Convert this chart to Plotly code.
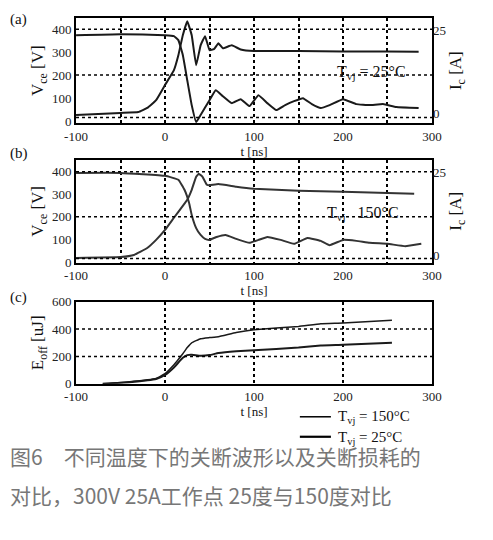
import plotly.graph_objects as go

# (a) Tvj = 25 C
ta_v = [-100, -50, -30, -20, -10, 0, 10, 15, 20, 25, 30, 35, 40, 45, 50, 55, 60, 65, 75, 85, 100, 150, 200, 250, 285]
va_v = [26, 35, 39, 57, 91, 157, 222, 287, 374, 435, 374, 243, 330, 370, 309, 313, 339, 317, 330, 312, 305, 305, 303, 303, 302]
ta_i = [-100, -50, 0, 10, 15, 20, 25, 30, 35, 40, 50, 57, 65, 75, 85, 95, 105, 115, 125, 135, 145, 155, 165, 175, 185, 200, 215, 230, 245, 260, 285]
ia_i = [23.5, 23.8, 23.5, 23.2, 22.0, 17.5, 9.9, 2.4, -2.7, -0.6, 3.9, 6.9, 5.1, 3.0, 4.2, 2.1, 5.4, 3.0, 0.9, 2.4, 3.6, 4.5, 2.7, 1.5, 2.4, 4.2, 2.7, 2.4, 2.7, 1.8, 1.5]

# (b) Tvj = 150 C
tb_v = [-100, -50, -35, -20, -10, 0, 10, 20, 25, 30, 35, 38, 42, 47, 50, 60, 80, 100, 150, 200, 280]
vb_v = [18, 22, 31, 62, 98, 142, 196, 249, 276, 320, 378, 391, 378, 342, 340, 345, 333, 324, 316, 311, 302]
tb_i = [-100, -50, 0, 15, 22, 27, 30, 35, 40, 45, 50, 58, 68, 80, 95, 105, 115, 130, 145, 160, 175, 185, 200, 215, 230, 250, 270, 288]
ib_i = [25, 25, 24.1, 22.9, 19.8, 15.9, 12.2, 8.2, 6.1, 4.9, 4.6, 5.5, 6.1, 4.9, 3.7, 4.6, 5.5, 4.6, 3.4, 5.2, 4.3, 3.0, 4.6, 4.3, 3.7, 3.4, 2.7, 3.4]

# (c) turn-off energy
tc = [-70, -40, -10, 0, 10, 20, 25, 30, 40, 50, 60, 80, 100, 150, 175, 200, 255]
e150 = [0, 15, 40, 75, 140, 220, 265, 300, 330, 338, 345, 375, 395, 420, 440, 445, 465]
e25 = [0, 12, 35, 65, 120, 190, 210, 212, 205, 210, 225, 238, 245, 265, 280, 285, 300]

serif = "Liberation Serif"
fig = go.Figure()
ln = dict(color="#1a1a1a", width=2, shape="spline", smoothing=0.3)

fig.add_trace(go.Scatter(x=ta_v, y=va_v, mode="lines", line=ln, xaxis="x", yaxis="y"))
fig.add_trace(go.Scatter(x=ta_i, y=ia_i, mode="lines", line=ln, xaxis="x", yaxis="y2"))
fig.add_trace(go.Scatter(x=tb_v, y=vb_v, mode="lines", line=dict(ln, color="#333"), xaxis="x2", yaxis="y3"))
fig.add_trace(go.Scatter(x=tb_i, y=ib_i, mode="lines", line=dict(ln, color="#333"), xaxis="x2", yaxis="y4"))
fig.add_trace(go.Scatter(x=tc, y=e150, mode="lines", line=dict(ln, width=1.5), xaxis="x3", yaxis="y5"))
fig.add_trace(go.Scatter(x=tc, y=e25, mode="lines", line=dict(ln, width=2), xaxis="x3", yaxis="y5"))

xd = [0.138, 0.860]
tv = [-100, -50, 0, 50, 100, 150, 200, 250, 300]
tt = ["-100", "", "0", "", "100", "", "200", "", "300"]
tick = dict(family=serif, size=13, color="#222")
frame = dict(showline=True, linewidth=2, linecolor="black", mirror=True, ticks="", zeroline=False,
             tickfont=tick, automargin=False)
xgrid = dict(showgrid=True, griddash="dot", gridcolor="black", gridwidth=1.5)
tfont = dict(family=serif, size=17, color="#111")


def xax(anchor, vals, text):
    return dict(frame, **xgrid, domain=xd, range=[-100, 300], anchor=anchor, tickvals=vals, ticktext=text,
                title=dict(text="t [ns]", font=dict(family=serif, size=13, color="#111"), standoff=2))


def yax(dom, rng, anchor, title):
    return dict(frame, domain=dom, range=rng, anchor=anchor, tickvals=[0, 100, 200, 300, 400], showgrid=False,
                title=dict(text=title, font=tfont, standoff=4))


def y2ax(over, rng):
    return dict(overlaying=over, side="right", anchor="free", position=xd[1], range=rng, tickvals=[0, 25],
                showgrid=False, zeroline=False, ticks="", tickfont=tick, automargin=False,
                title=dict(text="I<sub>c</sub> [A]", font=tfont, standoff=4))


fig.update_layout(
    width=493, height=540, showlegend=False, plot_bgcolor="white", paper_bgcolor="white",
    margin=dict(l=0, r=0, t=0, b=0),
    xaxis=xax("y", tv, tt),
    yaxis=yax([0.787, 0.981], [-9, 448], "x", "V<sub>ce</sub> [V]"),
    yaxis2=y2ax("y", [-3, 28.6]),
    xaxis2=xax("y3", tv, tt),
    yaxis3=yax([0.528, 0.719], [-4, 453], "x2", "V<sub>ce</sub> [V]"),
    yaxis4=y2ax("y3", [-2.4, 29]),
    xaxis3=dict(xax("y5", [-100, 0, 100, 200, 300], ["-100", "0", "100", "200", "300"])),
    yaxis5=dict(yax([0.304, 0.456], [0, 600], "x3", "E<sub>off</sub> [uJ]"), tickvals=[0, 200, 400, 600]),
)

shapes = []
for yref, vals in [("y", [15, 200, 400]), ("y3", [15, 200, 400]), ("y5", [200, 400])]:
    xr = {"y": "x", "y3": "x2", "y5": "x3"}[yref]
    for v in vals:
        shapes.append(dict(type="line", xref=xr + " domain", yref=yref, x0=0, x1=1, y0=v, y1=v,
                           line=dict(color="black", width=1.5, dash="dot")))
# legend lines
for yy, w in [(0.243, 1.5), (0.206, 2.2)]:
    shapes.append(dict(type="line", xref="paper", yref="paper", x0=0.592, x1=0.655, y0=yy, y1=yy,
                       line=dict(color="black", width=w)))
fig.update_layout(shapes=shapes)

ann = [
    dict(x=0.0, y=0.998, text="(a)", ya="top"), dict(x=0.0, y=0.731, text="(b)"), dict(x=0.0, y=0.463, text="(c)"),
    dict(x=0.663, y=0.881, text="T<sub>vj</sub> = 25°C", size=16),
    dict(x=0.643, y=0.62, text="T<sub>vj</sub>   150°C", size=16),
    dict(x=0.665, y=0.243, text="T<sub>vj</sub> = 150°C", size=15),
    dict(x=0.665, y=0.204, text="T<sub>vj</sub> = 25°C", size=15),
]
for a in ann:
    fig.add_annotation(x=a["x"], y=a["y"], xref="paper", yref="paper", text=a["text"], showarrow=False,
                       xanchor="left", yanchor=a.get("ya", "middle"),
                       font=dict(family=serif, size=a.get("size", 15), color="#111"))

cap = dict(family="Noto Sans CJK SC", size=21, color="#777")
fig.add_annotation(x=0.0, y=0.139, xref="paper", yref="paper", showarrow=False, xanchor="left",
                   text="图6　不同温度下的关断波形以及关断损耗的", font=cap)
fig.add_annotation(x=0.0, y=0.067, xref="paper", yref="paper", showarrow=False, xanchor="left",
                   text="对比，300V 25A工作点 25度与150度对比", font=cap)

fig.write_html("out.html")
